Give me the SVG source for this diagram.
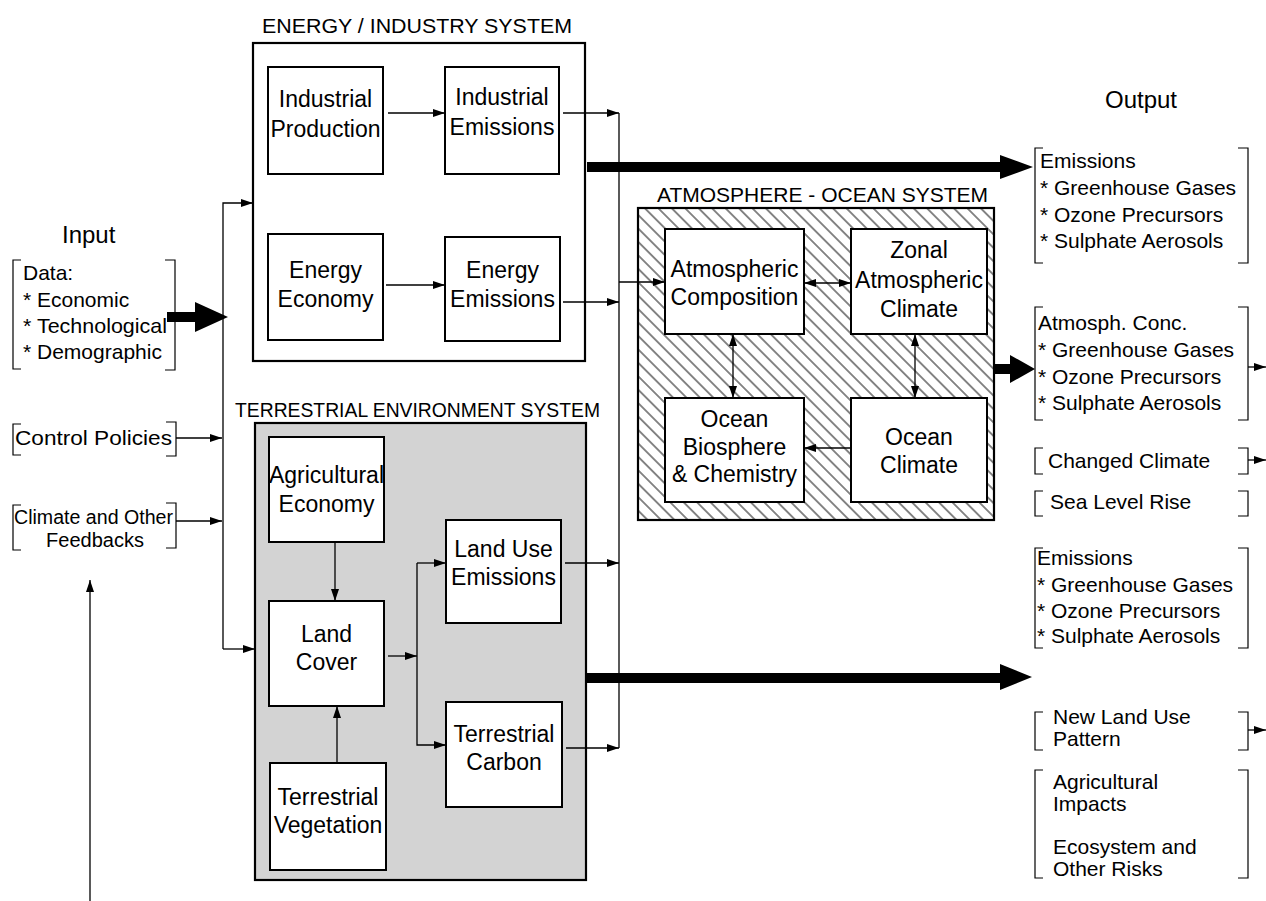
<svg xmlns="http://www.w3.org/2000/svg" width="1266" height="901" viewBox="0 0 1266 901">
<defs>
<marker id="ah" viewBox="0 0 12 8" refX="12" refY="4" markerWidth="13" markerHeight="8" markerUnits="userSpaceOnUse" orient="auto-start-reverse"><path d="M0,0 L12,4 L0,8 z" fill="#000"/></marker>
<pattern id="hatch" patternUnits="userSpaceOnUse" width="9.5" height="9.5" patternTransform="rotate(45)"><rect width="9.5" height="9.5" fill="#fff"/><line x1="0" y1="4.75" x2="9.5" y2="4.75" stroke="#111" stroke-width="1"/></pattern>
<style>
.t{font-family:"Liberation Sans",Arial,Helvetica,sans-serif;fill:#000}
.n{font-size:23px;text-anchor:middle}
.s{font-size:20.5px}
.o{font-size:21px}
.i{font-size:21px}
.box{fill:#fff;stroke:#000;stroke-width:2}
.sys{stroke:#000;stroke-width:2.2}
.c{fill:none;stroke:#000;stroke-width:1.3}
.br{fill:none;stroke:#000;stroke-width:1.2}
</style>
</defs>

<text class="t" x="62" y="243" font-size="24">Input</text>
<text class="t" x="1141" y="108" font-size="24" text-anchor="middle">Output</text>

<g id="energy-industry-system">
<text class="t s" x="262" y="33" textLength="310" lengthAdjust="spacingAndGlyphs">ENERGY / INDUSTRY  SYSTEM</text>
<rect class="sys" x="253" y="43" width="332" height="318" fill="#fff"/>
</g>
<g id="industrial-production"><rect class="box" x="268" y="67" width="115" height="107"/><text class="t n" x="325.5" y="107">Industrial</text><text class="t n" x="325.5" y="137">Production</text></g>
<g id="industrial-emissions"><rect class="box" x="445" y="67" width="114" height="107"/><text class="t n" x="502" y="105">Industrial</text><text class="t n" x="502" y="135">Emissions</text></g>
<g id="energy-economy"><rect class="box" x="268" y="234" width="115" height="106"/><text class="t n" x="325.5" y="278">Energy</text><text class="t n" x="325.5" y="307">Economy</text></g>
<g id="energy-emissions"><rect class="box" x="445" y="237" width="115" height="104"/><text class="t n" x="502.5" y="278">Energy</text><text class="t n" x="502.5" y="307">Emissions</text></g>

<g id="atmosphere-ocean-system">
<text class="t s" x="657" y="202" textLength="331" lengthAdjust="spacingAndGlyphs">ATMOSPHERE - OCEAN  SYSTEM</text>
<rect class="sys" x="638" y="208" width="356" height="312" fill="url(#hatch)"/>
</g>
<g id="atmospheric-composition"><rect class="box" x="665" y="229" width="139" height="105"/><text class="t n" x="734.5" y="277">Atmospheric</text><text class="t n" x="734.5" y="305">Composition</text></g>
<g id="zonal-atmospheric-climate"><rect class="box" x="851" y="229" width="136" height="105"/><text class="t n" x="919" y="258">Zonal</text><text class="t n" x="919" y="288">Atmospheric</text><text class="t n" x="919" y="317">Climate</text></g>
<g id="ocean-biosphere-chemistry"><rect class="box" x="665" y="398" width="139" height="104"/><text class="t n" x="734.5" y="427">Ocean</text><text class="t n" x="734.5" y="455">Biosphere</text><text class="t n" x="734.5" y="482">&amp; Chemistry</text></g>
<g id="ocean-climate"><rect class="box" x="851" y="398" width="136" height="104"/><text class="t n" x="919" y="445">Ocean</text><text class="t n" x="919" y="473">Climate</text></g>

<g id="terrestrial-environment-system">
<text class="t s" x="235" y="417" textLength="365" lengthAdjust="spacingAndGlyphs">TERRESTRIAL  ENVIRONMENT SYSTEM</text>
<rect class="sys" x="255" y="423" width="331" height="457" fill="#d3d3d3"/>
</g>
<g id="agricultural-economy"><rect class="box" x="269" y="437" width="115" height="105"/><text class="t n" x="326.5" y="483" font-size="22">Agricultural</text><text class="t n" x="326.5" y="512">Economy</text></g>
<g id="land-cover"><rect class="box" x="269" y="601" width="115" height="105"/><text class="t n" x="326.5" y="642">Land</text><text class="t n" x="326.5" y="670">Cover</text></g>
<g id="terrestrial-vegetation"><rect class="box" x="270" y="763" width="116" height="107"/><text class="t n" x="328" y="805">Terrestrial</text><text class="t n" x="328" y="833">Vegetation</text></g>
<g id="land-use-emissions"><rect class="box" x="446" y="520" width="115" height="103"/><text class="t n" x="503.5" y="557">Land Use</text><text class="t n" x="503.5" y="585">Emissions</text></g>
<g id="terrestrial-carbon"><rect class="box" x="446" y="702" width="116" height="105"/><text class="t n" x="504" y="742">Terrestrial</text><text class="t n" x="504" y="770">Carbon</text></g>

<g id="input-data">
<path class="br" d="M21,260 H13 V369 H21"/><path class="br" d="M165,260 H175 V370 H165"/>
<text class="t i" x="23" y="280">Data:</text>
<text class="t i" x="23" y="307">* Economic</text>
<text class="t i" x="23" y="333" textLength="144" lengthAdjust="spacingAndGlyphs">* Technological</text>
<text class="t i" x="23" y="359">* Demographic</text>
</g>
<g id="input-control-policies">
<path class="br" d="M21,424 H13 V455 H21"/><path class="br" d="M166,422 H176 V456 H166"/>
<text class="t" font-size="21" x="15" y="445" textLength="157" lengthAdjust="spacingAndGlyphs">Control Policies</text>
</g>
<g id="input-climate-feedbacks">
<path class="br" d="M21,505 H13 V550 H21"/><path class="br" d="M166,503 H176 V548 H166"/>
<text class="t" font-size="20" x="14" y="524" textLength="159" lengthAdjust="spacingAndGlyphs">Climate and Other</text>
<text class="t" font-size="20" x="95" y="547" text-anchor="middle">Feedbacks</text>
</g>

<g id="output-emissions-1">
<path class="br" d="M1043,148 H1035 V263 H1043"/><path class="br" d="M1238,148 H1248 V263 H1238"/>
<text class="t o" x="1040" y="168">Emissions</text>
<text class="t o" x="1040" y="195">* Greenhouse Gases</text>
<text class="t o" x="1040" y="222">* Ozone Precursors</text>
<text class="t o" x="1040" y="248">* Sulphate Aerosols</text>
</g>
<g id="output-atmosph-conc">
<path class="br" d="M1043,307 H1035 V420 H1043"/><path class="br" d="M1238,307 H1248 V420 H1238"/>
<text class="t o" x="1038" y="330">Atmosph. Conc.</text>
<text class="t o" x="1038" y="357">* Greenhouse Gases</text>
<text class="t o" x="1038" y="384">* Ozone Precursors</text>
<text class="t o" x="1038" y="410">* Sulphate Aerosols</text>
</g>
<g id="output-changed-climate">
<path class="br" d="M1043,448 H1035 V474 H1043"/><path class="br" d="M1238,448 H1248 V474 H1238"/>
<text class="t o" x="1048" y="468">Changed Climate</text>
</g>
<g id="output-sea-level-rise">
<path class="br" d="M1043,491 H1035 V516 H1043"/><path class="br" d="M1238,491 H1248 V516 H1238"/>
<text class="t o" x="1050" y="509">Sea Level Rise</text>
</g>
<g id="output-emissions-2">
<path class="br" d="M1043,548 H1035 V648 H1043"/><path class="br" d="M1238,548 H1248 V648 H1238"/>
<text class="t o" x="1037" y="565">Emissions</text>
<text class="t o" x="1037" y="592">* Greenhouse Gases</text>
<text class="t o" x="1037" y="618">* Ozone Precursors</text>
<text class="t o" x="1037" y="643">* Sulphate Aerosols</text>
</g>
<g id="output-new-land-use">
<path class="br" d="M1043,712 H1035 V750 H1043"/><path class="br" d="M1238,712 H1248 V750 H1238"/>
<text class="t o" x="1053" y="724">New Land Use</text>
<text class="t o" x="1053" y="746">Pattern</text>
</g>
<g id="output-impacts">
<path class="br" d="M1043,770 H1035 V878 H1043"/><path class="br" d="M1238,770 H1248 V878 H1238"/>
<text class="t o" x="1053" y="789">Agricultural</text>
<text class="t o" x="1053" y="811">Impacts</text>
<text class="t o" x="1053" y="854">Ecosystem and</text>
<text class="t o" x="1053" y="876">Other Risks</text>
</g>

<g id="connectors">
<path class="c" d="M223,649 V203 H253" marker-end="url(#ah)"/>
<path class="c" d="M223,649 H255" marker-end="url(#ah)"/>
<path class="c" d="M176,438 H222" marker-end="url(#ah)"/>
<path class="c" d="M176,521 H222" marker-end="url(#ah)"/>
<path class="c" d="M90,901 V580" marker-end="url(#ah)"/>
<polygon points="167,312 195,312 195,302 228,317 195,332 195,322 167,322" fill="#000"/>
<path class="c" d="M388,113 H445" marker-end="url(#ah)"/>
<path class="c" d="M386,285 H445" marker-end="url(#ah)"/>
<path class="c" d="M563,113 H619" marker-end="url(#ah)"/>
<path class="c" d="M563,302 H619" marker-end="url(#ah)"/>
<path class="c" d="M619,113 V748"/>
<path class="c" d="M619,282 H665" marker-end="url(#ah)"/>
<path class="c" d="M335,542 V601" marker-end="url(#ah)"/>
<path class="c" d="M337,763 V706" marker-end="url(#ah)"/>
<path class="c" d="M388,656 H417" marker-end="url(#ah)"/>
<path class="c" d="M417,563 V745 H446" marker-end="url(#ah)"/>
<path class="c" d="M417,563 H446" marker-end="url(#ah)"/>
<path class="c" d="M565,563 H619" marker-end="url(#ah)"/>
<path class="c" d="M566,748 H619" marker-end="url(#ah)"/>
<path class="c" d="M804,283 H851" marker-start="url(#ah)" marker-end="url(#ah)"/>
<path class="c" d="M733,334 V398" marker-start="url(#ah)" marker-end="url(#ah)"/>
<path class="c" d="M915,334 V398" marker-start="url(#ah)" marker-end="url(#ah)"/>
<path class="c" d="M851,448 H804" marker-end="url(#ah)"/>
<polygon points="587,162 1000,162 1000,155 1033,167 1000,179 1000,172 587,172" fill="#000"/>
<polygon points="995,364 1010,364 1010,355 1035,369 1010,383 1010,374 995,374" fill="#000"/>
<polygon points="586,673 1000,673 1000,664 1032,677 1000,690 1000,683 586,683" fill="#000"/>
<path class="c" d="M1248,367 H1266" marker-end="url(#ah)"/>
<path class="c" d="M1248,460 H1266" marker-end="url(#ah)"/>
<path class="c" d="M1248,730 H1266" marker-end="url(#ah)"/>
</g>
</svg>
